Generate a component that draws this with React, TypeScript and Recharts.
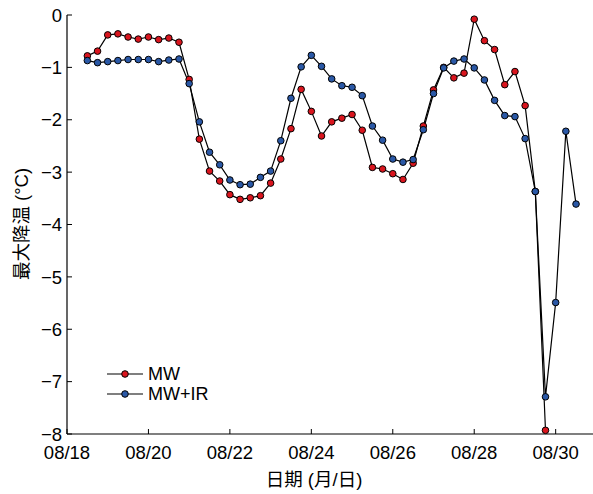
import React from 'react';
import { LineChart, Line, XAxis, YAxis, Legend } from 'recharts';

// hours since 08/18 00:00, 6-hourly samples
const hours = [12, 18, 24, 30, 36, 42, 48, 54, 60, 66, 72, 78, 84, 90, 96, 102, 108, 114, 120, 126,
  132, 138, 144, 150, 156, 162, 168, 174, 180, 186, 192, 198, 204, 210, 216, 222, 228, 234, 240,
  246, 252, 258, 264, 270, 276, 282, 288, 294, 300];

const mwValues = [-0.78, -0.69, -0.38, -0.36, -0.42, -0.46, -0.42, -0.47, -0.44, -0.52,
  -1.23, -2.37, -2.98, -3.17, -3.43, -3.52, -3.49, -3.45, -3.21, -2.75,
  -2.17, -1.42, -1.84, -2.31, -2.04, -1.97, -1.90, -2.20, -2.91, -2.94,
  -3.03, -3.14, -2.83, -2.12, -1.43, -1.00, -1.20, -1.11, -0.08, -0.49,
  -0.66, -1.33, -1.08, -1.73, -3.37, -7.93];

const mwIrValues = [-0.87, -0.91, -0.89, -0.87, -0.85, -0.85, -0.85, -0.89, -0.86, -0.84,
  -1.31, -2.04, -2.62, -2.86, -3.15, -3.24, -3.23, -3.10, -2.98, -2.40,
  -1.59, -0.99, -0.77, -0.98, -1.22, -1.35, -1.38, -1.54, -2.12, -2.39,
  -2.75, -2.81, -2.76, -2.19, -1.50, -1.01, -0.88, -0.84, -1.01, -1.24,
  -1.63, -1.92, -1.94, -2.36, -3.37, -7.29, -5.49, -2.22, -3.61];

const xTickValues = [0, 48, 96, 144, 192, 240, 288];
const xTickLabels = ['08/18', '08/20', '08/22', '08/24', '08/26', '08/28', '08/30'];
const yTickValues = [0, -1, -2, -3, -4, -5, -6, -7, -8];
const seriesNames = ['MW', 'MW+IR'];
const xTitle = '日期 (月/日)';
const yTitle = '最大降温 (°C)';

const RED = '#d9151e';
const BLUE = '#2a58a6';
const FONT = "'Liberation Sans', Arial, 'Noto Sans CJK SC', sans-serif";

const data = hours.map((h, i) => ({
  h,
  mw: i < mwValues.length ? mwValues[i] : null,
  mwir: i < mwIrValues.length ? mwIrValues[i] : null,
}));

const XTick = (props: any) => {
  const { x, y, payload } = props;
  const idx = xTickValues.indexOf(payload.value);
  return (
    <g>
      <line x1={x} x2={x} y1={y} y2={y - 5} stroke="#000" strokeWidth={1} />
      <text x={x} y={y + 25} textAnchor="middle" fontSize={18.5} fontFamily={FONT} fill="#000">
        {idx >= 0 ? xTickLabels[idx] : ''}
      </text>
    </g>
  );
};

const YTick = (props: any) => {
  const { x, y, payload } = props;
  const v = payload.value;
  const label = v < 0 ? '\u2212' + Math.abs(v) : String(v);
  return (
    <g>
      <line x1={x} x2={x + 5} y1={y} y2={y} stroke="#000" strokeWidth={1} />
      <text x={x - 5} y={y} dy="0.36em" textAnchor="end" fontSize={18.5} fontFamily={FONT} fill="#000">
        {label}
      </text>
    </g>
  );
};

const renderLegend = () => (
  <div style={{ fontFamily: FONT, fontSize: 18, color: '#000' }}>
    {[[seriesNames[0], RED], [seriesNames[1], BLUE]].map(([name, color]) => (
      <div key={name} style={{ display: 'flex', alignItems: 'center', height: 20 }}>
        <svg width={38} height={20} style={{ display: 'block' }}>
          <line x1={0} x2={36} y1={10} y2={10} stroke="#000" strokeWidth={1.2} />
          <circle cx={18} cy={10} r={3.3} fill={color} stroke="#000" strokeWidth={1} />
        </svg>
        <span style={{ marginLeft: 3, lineHeight: '20px' }}>{name}</span>
      </div>
    ))}
  </div>
);

export default function App() {
  return (
    <div style={{ position: 'absolute', left: 0, top: 0, width: 593, height: 494, background: '#fff' }}>
      <LineChart width={593} height={494} data={data} margin={{ top: 15, right: 0, bottom: 0, left: 0 }}>
        <XAxis
          dataKey="h"
          type="number"
          domain={[0, 310]}
          ticks={xTickValues}
          allowDataOverflow
          tickSize={0}
          tickMargin={0}
          tickLine={false}
          axisLine={{ stroke: '#000', strokeWidth: 1.2 }}
          tick={<XTick />}
          height={60}
          interval={0}
          label={{
            content: (p: any) => {
              const vb = p.viewBox;
              return (
                <text x={314} y={vb.y + 52} textAnchor="middle" fontSize={18.5} fontFamily={FONT} fill="#000">
                  {xTitle}
                </text>
              );
            },
          }}
        />
        <YAxis
          type="number"
          domain={[-8, 0]}
          ticks={yTickValues}
          tickSize={0}
          tickMargin={0}
          tickLine={false}
          axisLine={{ stroke: '#000', strokeWidth: 1.2 }}
          tick={<YTick />}
          width={67}
          interval={0}
          label={{
            content: () => {
              const cy = 224;
              const cx = 21;
              return (
                <text
                  x={cx}
                  y={cy}
                  transform={`rotate(-90, ${cx}, ${cy})`}
                  textAnchor="middle"
                  dominantBaseline="central"
                  fontSize={18.5}
                  fontFamily={FONT}
                  fill="#000"
                >
                  {yTitle}
                </text>
              );
            },
          }}
        />
        <Legend
          layout="vertical"
          align="center"
          verticalAlign="middle"
          content={renderLegend}
          wrapperStyle={{ left: 107, top: 364, width: 'auto', height: 'auto' }}
        />
        <Line
          dataKey="mw"
          name={seriesNames[0]}
          stroke="#000"
          strokeWidth={1.2}
          dot={{ r: 3.3, fill: RED, stroke: '#000', strokeWidth: 1 }}
          activeDot={false}
          isAnimationActive={false}
          connectNulls={false}
        />
        <Line
          dataKey="mwir"
          name={seriesNames[1]}
          stroke="#000"
          strokeWidth={1.2}
          dot={{ r: 3.3, fill: BLUE, stroke: '#000', strokeWidth: 1 }}
          activeDot={false}
          isAnimationActive={false}
          connectNulls={false}
        />
      </LineChart>
    </div>
  );
}
